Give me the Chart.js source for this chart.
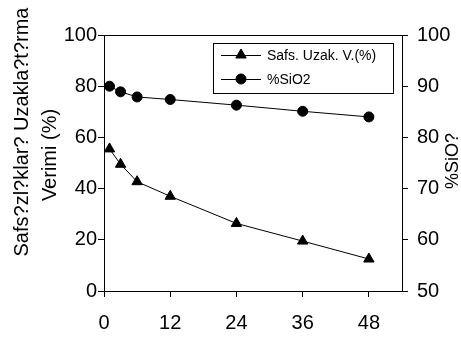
<!DOCTYPE html>
<html>
<head>
<meta charset="utf-8">
<script src="https://cdn.jsdelivr.net/npm/chart.js@4.4.0/dist/chart.umd.min.js"></script>
<style>
html, body { margin: 0; padding: 0; background: #fff; }
</style>
</head>
<body>
<canvas id="myChart" width="461" height="340"></canvas>
<script>
// hours on the x axis, two series
let hours = [1, 3, 6, 12, 24, 36, 48];
let removal = [55.5, 49.5, 42.7, 37, 26.4, 19.5, 12.5];
let sio2 = [90, 88.9, 87.9, 87.4, 86.3, 85.1, 84];
let xTicks = [0, 12, 24, 36, 48];
let leftTicks = [0, 20, 40, 60, 80, 100];
let rightTicks = [50, 60, 70, 80, 90, 100];
let seriesNames = ['Safs. Uzak. V.(%)', '%SiO2'];
let leftTitle = ['Safs?zl?klar? Uzakla?t?rma', 'Verimi (%)'];
let rightTitle = '%SiO?';

const FONT = '"Liberation Sans", Arial, sans-serif';

function points(xs, ys) {
    return xs.map((x, i) => ({ x: x, y: ys[i] }));
}

// frame, axis titles and the boxed legend inside the plot
const extras = {
    id: 'extras',
    afterDraw(chart) {
        const ctx = chart.ctx;
        const a = chart.chartArea;
        ctx.save();
        ctx.strokeStyle = '#000';
        ctx.lineWidth = 1;
        ctx.strokeRect(Math.round(a.left) + 0.5, Math.round(a.top) + 0.5,
            Math.round(a.right - a.left), Math.round(a.bottom - a.top));

        ctx.fillStyle = '#000';
        ctx.font = '20px ' + FONT;
        ctx.textAlign = 'center';
        ctx.textBaseline = 'middle';
        let spots = [[22, 132], [50, 155]];
        leftTitle.forEach((t, i) => {
            ctx.save();
            ctx.translate(spots[i][0], spots[i][1]);
            ctx.rotate(-Math.PI / 2);
            ctx.fillText(t, 0, 0);
            ctx.restore();
        });
        ctx.save();
        ctx.font = '18px ' + FONT;
        ctx.translate(453, 161);
        ctx.rotate(-Math.PI / 2);
        ctx.fillText(rightTitle, 0, 0);
        ctx.restore();

        // legend
        ctx.fillStyle = '#fff';
        ctx.fillRect(213.5, 43.5, 180, 50);
        ctx.strokeRect(213.5, 43.5, 180, 50);
        ctx.font = '14px ' + FONT;
        ctx.textAlign = 'left';
        chart.data.datasets.forEach((ds, i) => {
            let y = 55 + i * 24;
            ctx.strokeStyle = '#000';
            ctx.beginPath();
            ctx.moveTo(221, y + 0.5);
            ctx.lineTo(261, y + 0.5);
            ctx.stroke();
            ctx.fillStyle = '#000';
            Chart.helpers.drawPoint(ctx, {
                pointStyle: ds.pointStyle, radius: ds.pointRadius, rotation: 0, borderWidth: 1
            }, 241, y);
            ctx.fillStyle = '#000';
            ctx.fillText(ds.label, 267, y + 1);
        });
        ctx.restore();
    }
};

function axis(extra) {
    return Object.assign({
        ticks: { color: '#000', font: { family: FONT, size: 20 } },
        grid: { drawOnChartArea: false, tickLength: 6, color: '#000' },
        border: { display: true, color: '#000', width: 1 }
    }, extra);
}

new Chart('myChart', {
    type: 'line',
    data: {
        datasets: [{
            label: seriesNames[0],
            data: points(hours, removal),
            yAxisID: 'y',
            borderColor: '#000',
            borderWidth: 1,
            backgroundColor: '#000',
            pointStyle: 'triangle',
            pointRadius: 6,
            pointBackgroundColor: '#000',
            pointBorderColor: '#000',
            tension: 0
        }, {
            label: seriesNames[1],
            data: points(hours, sio2),
            yAxisID: 'y2',
            borderColor: '#000',
            borderWidth: 1,
            backgroundColor: '#000',
            pointStyle: 'circle',
            pointRadius: 5,
            pointBackgroundColor: '#000',
            pointBorderColor: '#000',
            tension: 0
        }]
    },
    options: {
        responsive: false,
        animation: false,
        layout: { padding: { top: 35, left: 0, right: 0, bottom: 0 } },
        plugins: { legend: { display: false }, tooltip: { enabled: false } },
        scales: {
            x: axis({
                type: 'linear', min: 0, max: 54,
                ticks: { color: '#000', font: { family: FONT, size: 20 }, stepSize: 12, includeBounds: false, padding: 14 },
                afterBuildTicks: s => { s.ticks = xTicks.map(v => ({ value: v })); },
                afterFit: s => { s.height = 49; }
            }),
            y: axis({
                position: 'left', min: 0, max: 100,
                ticks: { color: '#000', font: { family: FONT, size: 20 }, padding: 1 },
                afterBuildTicks: s => { s.ticks = leftTicks.map(v => ({ value: v })); },
                afterFit: s => { s.width = 104; }
            }),
            y2: axis({
                position: 'right', min: 50, max: 100,
                ticks: { color: '#000', font: { family: FONT, size: 20 }, padding: 9 },
                afterBuildTicks: s => { s.ticks = rightTicks.map(v => ({ value: v })); },
                afterFit: s => { s.width = 59; }
            })
        }
    },
    plugins: [extras]
});
</script>
</body>
</html>
